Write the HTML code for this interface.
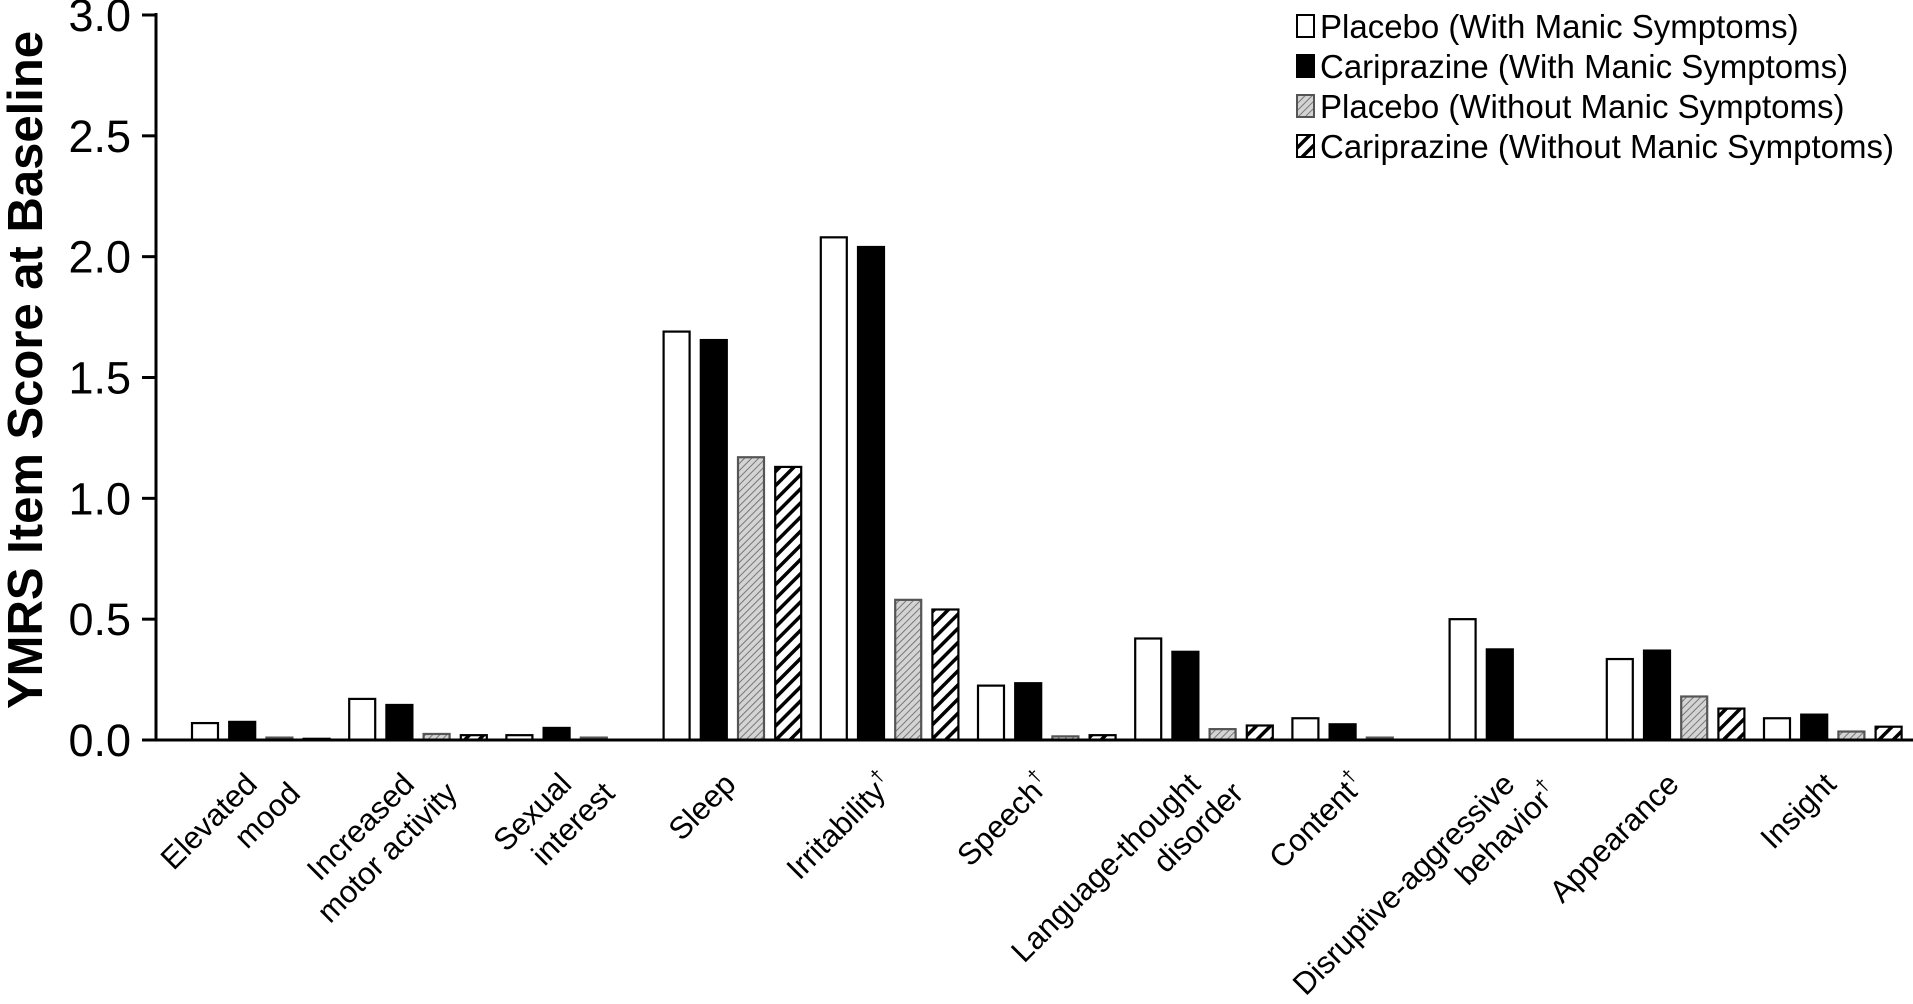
<!DOCTYPE html>
<html><head><meta charset="utf-8"><style>
html,body{margin:0;padding:0;background:#fff;}
svg{display:block;font-family:"Liberation Sans",Arial,sans-serif;}
</style></head><body>
<svg id="chart" width="1913" height="1004" viewBox="0 0 1913 1004" xmlns="http://www.w3.org/2000/svg">
<defs>
<pattern id="pGray" patternUnits="userSpaceOnUse" width="5" height="5" patternTransform="rotate(45)">
<rect width="5" height="5" fill="#d4d4d4"/><line x1="0" y1="0" x2="0" y2="5" stroke="#777" stroke-width="2"/></pattern>
<pattern id="pHatch" patternUnits="userSpaceOnUse" width="10" height="10" patternTransform="rotate(45)">
<rect width="10" height="10" fill="#fff"/><line x1="0" y1="0" x2="0" y2="10" stroke="#000" stroke-width="7"/></pattern>
</defs>
<g id="bars"></g>
<g id="axes"></g>
<g id="labels"></g>
<text transform="translate(42,370) rotate(-90)" text-anchor="middle" font-size="49" font-weight="bold">YMRS Item Score at Baseline</text>
<g font-size="33">
<rect x="1297" y="15" width="17" height="22" fill="#fff" stroke="#000" stroke-width="2"/>
<text x="1320" y="38">Placebo (With Manic Symptoms)</text>
<rect x="1297" y="55" width="17" height="22" fill="#000" stroke="#000" stroke-width="2"/>
<text x="1320" y="78">Cariprazine (With Manic Symptoms)</text>
<rect x="1297" y="95" width="17" height="22" fill="url(#pGray)" stroke="#555" stroke-width="2"/>
<text x="1320" y="118">Placebo (Without Manic Symptoms)</text>
<rect x="1297" y="135" width="17" height="22" fill="url(#pHatch)" stroke="#000" stroke-width="2"/>
<text x="1320" y="158">Cariprazine (Without Manic Symptoms)</text>
</g>
</svg>
<script>
const categories = [["Elevated","mood"],["Increased","motor activity"],["Sexual","interest"],["Sleep"],["Irritability†"],["Speech†"],["Language-thought","disorder"],["Content†"],["Disruptive-aggressive","behavior†"],["Appearance"],["Insight"]];
const placeboWith = [0.07,0.17,0.02,1.69,2.08,0.225,0.42,0.09,0.50,0.335,0.09];
const cariprazineWith = [0.075,0.145,0.05,1.655,2.04,0.235,0.365,0.065,0.375,0.37,0.105];
const placeboWithout = [0.01,0.025,0.01,1.17,0.58,0.015,0.045,0.01,0,0.18,0.035];
const cariprazineWithout = [0.005,0.02,0,1.13,0.54,0.02,0.06,0,0,0.13,0.055];
const yTicks = ["0.0","0.5","1.0","1.5","2.0","2.5","3.0"];

const NS="http://www.w3.org/2000/svg";
const y0=740, yTop=15, yMax=3.0;
const yScale=v=>y0-(v/yMax)*(y0-yTop);
const gStart=191, gStep=157.2, bStep=37.2, bW=28;
const xBar=(g,s)=>gStart+g*gStep+s*bStep;
const series=[
 {vals:placeboWith,fill:"#fff",stroke:"#000",name:"placebo-with"},
 {vals:cariprazineWith,fill:"#000",stroke:"#000",name:"cariprazine-with"},
 {vals:placeboWithout,fill:"url(#pGray)",stroke:"#555",name:"placebo-without"},
 {vals:cariprazineWithout,fill:"url(#pHatch)",stroke:"#000",name:"cariprazine-without"}];
const bars=document.getElementById("bars");
series.forEach((s,si)=>{
 s.vals.forEach((v,gi)=>{
  if(v<=0)return;
  const r=document.createElementNS(NS,"rect");
  const top=yScale(v);
  r.setAttribute("x",xBar(gi,si)+1);
  r.setAttribute("y",top);
  r.setAttribute("width",bW-2);
  r.setAttribute("height",Math.max(y0-top,1));
  r.setAttribute("fill",s.fill);
  r.setAttribute("stroke",s.stroke);
  r.setAttribute("stroke-width","2.2");
  
  
  bars.appendChild(r);
 });
});
const axes=document.getElementById("axes");
function line(x1,y1,x2,y2,w,nm){const l=document.createElementNS(NS,"line");l.setAttribute("x1",x1);l.setAttribute("y1",y1);l.setAttribute("x2",x2);l.setAttribute("y2",y2);l.setAttribute("stroke","#000");l.setAttribute("stroke-width",w);
 
 
 axes.appendChild(l);}
line(156,yTop-2,156,y0+1.5,3,"y-axis-line");
line(142,y0,1913,y0,3,"x-axis-line");
yTicks.forEach(t=>{
 const yy=yScale(parseFloat(t));
 line(142,yy,156,yy,3,"y-tick");
 const tx=document.createElementNS(NS,"text");
 tx.setAttribute("x",131);tx.setAttribute("y",yy+16);
 tx.setAttribute("text-anchor","end");tx.setAttribute("font-size","45");
 tx.textContent=t;
 
 
 axes.appendChild(tx);
});
const labels=document.getElementById("labels");
categories.forEach((c,gi)=>{
 const gc=xBar(gi,0)+(3*bStep+bW)/2;
 const g=document.createElementNS(NS,"g");
 
 
 let ax,ay;
 if(c.length===1){ax=gc+5;ay=786;}else{ax=gc-2;ay=786;}
 g.setAttribute("transform","translate("+ax+","+ay+") rotate(-45)");
 c.forEach((ln,li)=>{
  const t=document.createElementNS(NS,"text");
  t.setAttribute("text-anchor","end");t.setAttribute("font-size","31");
  t.setAttribute("x",li*24);t.setAttribute("y",li*37);
  if(ln.endsWith("†")){
   t.appendChild(document.createTextNode(ln.slice(0,-1)));
   const sp=document.createElementNS(NS,"tspan");
   sp.setAttribute("font-size","19");sp.setAttribute("dy","-13");
   sp.textContent="†";t.appendChild(sp);
  } else t.textContent=ln;
  g.appendChild(t);
 });
 labels.appendChild(g);
});
</script>
</body></html>
